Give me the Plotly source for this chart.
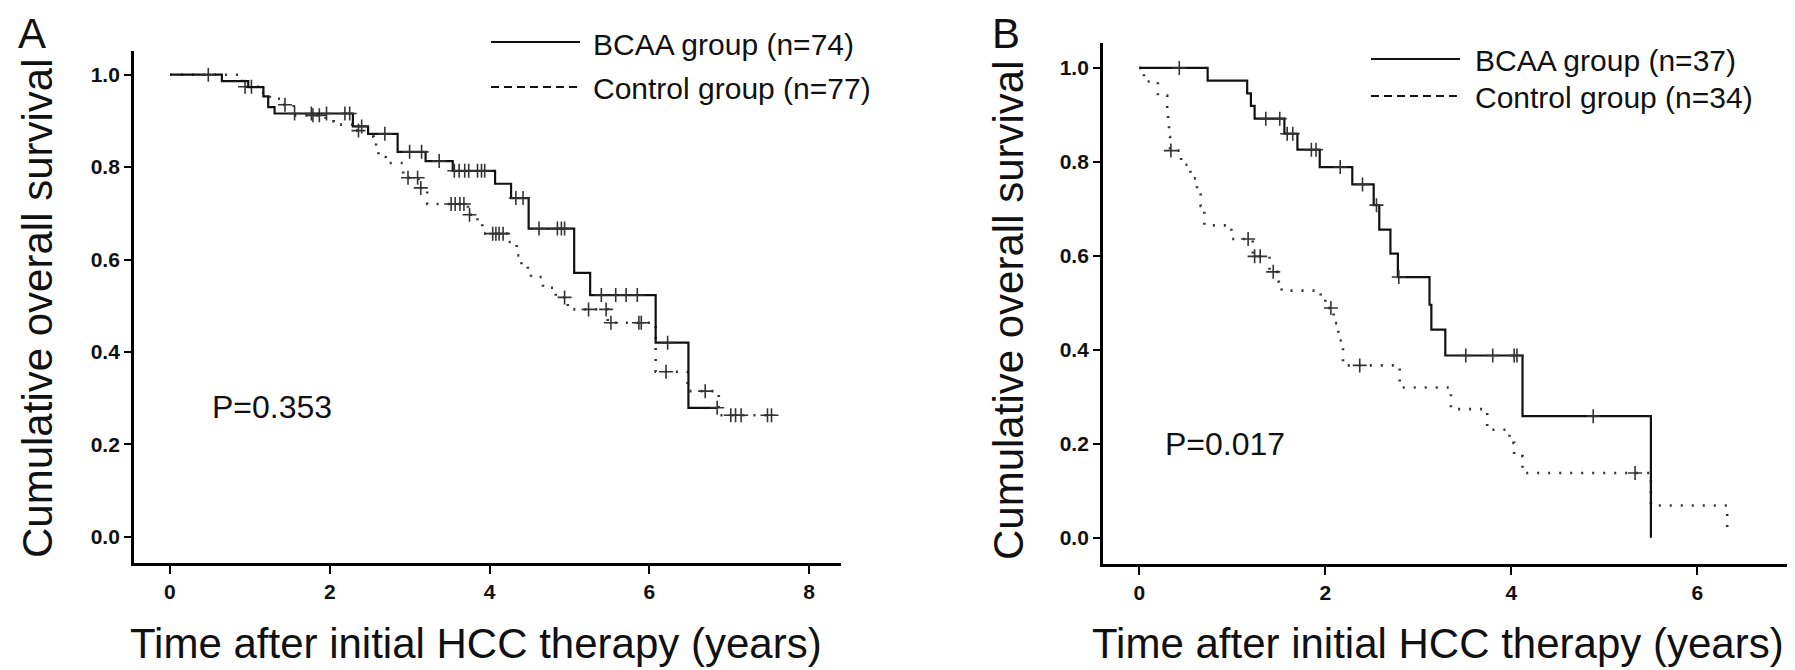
import plotly.graph_objects as go

# ---------------- Panel A data (Kaplan-Meier steps) ----------------
a_bcaa_t = [0, 0.65, 0.98, 1.17, 1.23, 1.31, 2.29, 2.48, 2.85, 3.20, 3.54, 4.07, 4.27, 4.49, 5.06, 5.26, 6.08, 6.49, 6.85]
a_bcaa_s = [1.0, 0.986, 0.973, 0.953, 0.930, 0.916, 0.888, 0.872, 0.833, 0.813, 0.792, 0.764, 0.733, 0.667, 0.571, 0.523, 0.420, 0.279, 0.279]
a_bcaa_cens = [0.48, 1.56, 1.77, 1.96, 2.19, 2.25, 2.40, 2.69, 3.00, 3.15, 3.37, 3.56, 3.62, 3.69, 3.74,
               3.85, 3.90, 3.94, 4.33, 4.42, 4.62, 4.85, 4.90, 4.94, 5.40, 5.58, 5.71, 5.85, 6.23, 6.85]

a_ctrl_t = [0, 0.90, 1.15, 1.25, 1.40, 1.55, 1.95, 2.05, 2.30, 2.52, 2.55, 2.58, 2.61, 2.70, 2.92, 3.11, 3.22,
            3.73, 3.85, 3.91, 4.22, 4.34, 4.40, 4.48, 4.52, 4.67, 4.83, 4.98, 5.48, 6.08, 6.48, 6.87, 7.56]
a_ctrl_s = [1.0, 0.974, 0.961, 0.948, 0.935, 0.912, 0.899, 0.892, 0.879, 0.866, 0.853, 0.840, 0.822, 0.809, 0.777, 0.755, 0.720,
            0.697, 0.677, 0.656, 0.638, 0.609, 0.585, 0.575, 0.562, 0.539, 0.518, 0.492, 0.463, 0.357, 0.315, 0.263, 0.263]
a_ctrl_cens = [0.94, 1.02, 1.44, 1.79, 1.87, 2.36, 2.98, 3.10, 3.14, 3.52, 3.57, 3.63, 3.68, 3.75, 4.04, 4.08, 4.12, 4.17,
               4.94, 5.24, 5.46, 5.52, 5.87, 5.90, 6.21, 6.70, 7.02, 7.08, 7.15, 7.48, 7.53]

# ---------------- Panel B data ----------------
b_bcaa_t = [0, 0.735, 1.16, 1.20, 1.24, 1.56, 1.70, 1.94, 2.29, 2.52, 2.58, 2.70, 2.78, 3.12, 3.14, 3.29, 4.12, 5.50]
b_bcaa_s = [1.0, 0.973, 0.946, 0.919, 0.892, 0.860, 0.826, 0.789, 0.752, 0.708, 0.656, 0.605, 0.555, 0.496, 0.443, 0.388, 0.259, 0.0]
b_bcaa_cens = [0.43, 1.36, 1.51, 1.59, 1.65, 1.85, 1.90, 2.16, 2.40, 2.55, 2.79, 3.51, 3.80, 4.03, 4.06, 4.88]

b_ctrl_t = [0, 0.05, 0.20, 0.30, 0.31, 0.32, 0.33, 0.45, 0.55, 0.62, 0.66, 0.70, 0.99, 1.22, 1.40, 1.50, 1.53, 1.95, 2.00,
            2.09, 2.14, 2.19, 2.80, 3.35, 3.74, 3.98, 4.03, 4.12, 5.50, 6.32]
b_ctrl_s = [1.0, 0.971, 0.941, 0.912, 0.882, 0.853, 0.824, 0.794, 0.765, 0.735, 0.706, 0.665, 0.636, 0.599, 0.566, 0.545, 0.526, 0.507, 0.489,
            0.457, 0.420, 0.367, 0.320, 0.274, 0.230, 0.202, 0.174, 0.138, 0.069, 0.02]
b_ctrl_cens = [0.34, 1.17, 1.24, 1.30, 1.44, 2.06, 2.37, 5.33]

legend_a = ["BCAA group (n=74)", "Control group (n=77)"]
legend_b = ["BCAA group (n=37)", "Control group (n=34)"]
p_a = "P=0.353"
p_b = "P=0.017"
y_ticks = [0.0, 0.2, 0.4, 0.6, 0.8, 1.0]
x_ticks_a = [0, 2, 4, 6, 8]
x_ticks_b = [0, 2, 4, 6]


def surv_at(ts, ss, t):
    val = ss[0]
    for ti, si in zip(ts, ss):
        if ti <= t:
            val = si
    return val


W, H = 1795, 670
FONT = "Liberation Sans, Arial, sans-serif"
fig = go.Figure()

solid = dict(color="#111111", width=2.2)
dotted = dict(color="#333333", width=2.6, dash="2px,9px")
cens_marker = dict(symbol="cross-thin", size=10, line=dict(color="#333333", width=1.6), color="#333333")

for (xa, ya, bt, bs, bc, ct, cs, cc) in [
    ("x", "y", a_bcaa_t, a_bcaa_s, a_bcaa_cens, a_ctrl_t, a_ctrl_s, a_ctrl_cens),
    ("x2", "y2", b_bcaa_t, b_bcaa_s, b_bcaa_cens, b_ctrl_t, b_ctrl_s, b_ctrl_cens),
]:
    fig.add_trace(go.Scatter(x=ct, y=cs, mode="lines", line=dotted, line_shape="hv",
                             xaxis=xa, yaxis=ya, showlegend=False, hoverinfo="skip"))
    fig.add_trace(go.Scatter(x=cc, y=[surv_at(ct, cs, t) for t in cc], mode="markers", marker=cens_marker,
                             xaxis=xa, yaxis=ya, showlegend=False, hoverinfo="skip"))
    fig.add_trace(go.Scatter(x=bt, y=bs, mode="lines", line=solid, line_shape="hv",
                             xaxis=xa, yaxis=ya, showlegend=False, hoverinfo="skip"))
    fig.add_trace(go.Scatter(x=bc, y=[surv_at(bt, bs, t) for t in bc], mode="markers", marker=cens_marker,
                             xaxis=xa, yaxis=ya, showlegend=False, hoverinfo="skip"))

axis_common = dict(showline=True, linecolor="black", linewidth=2.8, showgrid=False, zeroline=False,
                   ticks="outside", tickcolor="black", tickwidth=2, mirror=False,
                   tickfont=dict(family=FONT, size=21, color="#111111", weight="bold"))

fig.update_layout(
    width=W, height=H,
    margin=dict(l=0, r=0, t=0, b=0),
    paper_bgcolor="white", plot_bgcolor="white",
    xaxis=dict(domain=[126 / W, 833 / W], range=[-0.45, 8.4], tickvals=x_ticks_a, ticklen=8,
               anchor="y", **axis_common),
    yaxis=dict(domain=[1 - 555 / H, 1 - 42.7 / H], range=[-0.057, 1.052], tickvals=y_ticks,
               tickformat=".1f", ticklen=7, anchor="x", **axis_common),
    xaxis2=dict(domain=[1095 / W, 1788 / W], range=[-0.39, 7.06], tickvals=x_ticks_b, ticklen=8,
                anchor="y2", **axis_common),
    yaxis2=dict(domain=[1 - 555.7 / H, 1 - 35 / H], range=[-0.055, 1.053], tickvals=y_ticks,
                tickformat=".1f", ticklen=7, anchor="x2", **axis_common),
    showlegend=False,
)


def px(x):
    return x / W


def py(y):
    return 1 - y / H


ann = []
title_font = dict(family=FONT, size=42, color="#111111")
ann.append(dict(text="Cumulative overall survival", x=px(29), y=py(300), xref="paper", yref="paper",
                textangle=-90, showarrow=False, font=title_font, xanchor="center", yanchor="middle"))
ann.append(dict(text="Cumulative overall survival", x=px(1000), y=py(302), xref="paper", yref="paper",
                textangle=-90, showarrow=False, font=title_font, xanchor="center", yanchor="middle"))
ann.append(dict(text="Time after initial HCC therapy (years)", x=px(468), y=py(635), xref="paper", yref="paper",
                showarrow=False, font=title_font, xanchor="center", yanchor="middle"))
ann.append(dict(text="Time after initial HCC therapy (years)", x=px(1430), y=py(635), xref="paper", yref="paper",
                showarrow=False, font=title_font, xanchor="center", yanchor="middle"))
ann.append(dict(text="A", x=px(24), y=1, xref="paper", yref="paper", showarrow=False,
                font=dict(family=FONT, size=42, color="#111111"), xanchor="center", yanchor="top"))
ann.append(dict(text="B", x=px(998), y=1, xref="paper", yref="paper", showarrow=False,
                font=dict(family=FONT, size=42, color="#111111"), xanchor="center", yanchor="top"))

# P values (data coordinates)
ann.append(dict(text=p_a, x=0.5, y=0.28, xref="x", yref="y", showarrow=False, xanchor="left",
                font=dict(family=FONT, size=32, color="#111111")))
ann.append(dict(text=p_b, x=0.26, y=0.20, xref="x2", yref="y2", showarrow=False, xanchor="left",
                font=dict(family=FONT, size=32, color="#111111")))

# Legends drawn manually
shapes = []
leg_font = dict(family=FONT, size=30, color="#111111")
for (labels, x0, x1, xt, rows) in [(legend_a, 483, 572, 583, (34, 79)),
                                    (legend_b, 1363, 1452, 1465, (51, 88))]:
    shapes.append(dict(type="line", xref="paper", yref="paper", x0=px(x0), x1=px(x1), y0=py(rows[0]), y1=py(rows[0]),
                       line=dict(color="#111111", width=2.2)))
    shapes.append(dict(type="line", xref="paper", yref="paper", x0=px(x0), x1=px(x1), y0=py(rows[1]), y1=py(rows[1]),
                       line=dict(color="#111111", width=2.2, dash="8px,5px")))
    for lab, r in zip(labels, rows):
        ann.append(dict(text=lab, x=px(xt), y=py(r + 2), xref="paper", yref="paper", showarrow=False,
                        xanchor="left", yanchor="middle", font=leg_font))

fig.update_layout(annotations=ann, shapes=shapes)
fig.write_html("out.html")
